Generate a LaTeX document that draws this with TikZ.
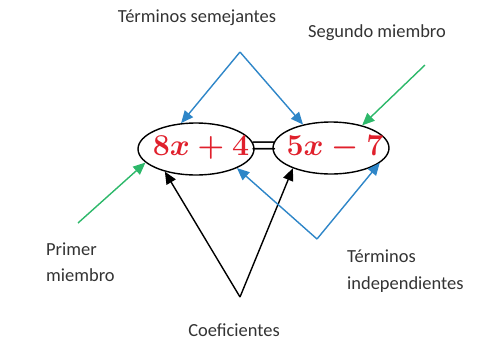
\documentclass[tikz,border=0pt]{standalone}
\usepackage{fontspec}
\setmainfont{Carlito}
\usepackage{amsmath}
\usepackage{tikz}
\usetikzlibrary{arrows.meta,positioning,shapes.geometric}
\usepackage{xcolor}
\definecolor{eqred}{HTML}{E0202C}
\definecolor{eqblue}{HTML}{2E86C8}
\definecolor{eqgreen}{HTML}{2DB86A}

\begin{document}
\begin{tikzpicture}[
  x=0.02cm, y=-0.02cm,
  member/.style={
    ellipse, draw=black, thick, minimum width=2.32cm, minimum height=1.04cm,
    inner sep=0pt
  },
  label/.style={font=\fontsize{10.5}{15}\selectfont, text=black!80, align=left},
  term/.style={font=\fontsize{18}{20}\selectfont\boldmath, text=eqred, inner sep=0pt},
  arr/.style={-{Triangle[length=7pt,width=6pt]}, thick},
]
  \useasboundingbox (0,0) rectangle (491,363);

  % Equation
  \node[member] (left) at (196,149) {};
  \node[member] (right) at (331,148) {};
  \node[term] (lhs) at (201,148) {$8x+4$};
  \node[term, text=black] (eq) at (264,148) {$=$};
  \node[term] (rhs) at (335,148) {$5x-7$};

  % Labels
  \node[label] (similar) at (197,18) {Términos semejantes};
  \node[label] (second) at (377,33) {Segundo miembro};
  \node[label, anchor=west] (first) at (40,262) {Primer\\miembro};
  \node[label, anchor=west] (indep) at (341,271) {Términos\\independientes};
  \node[label] (coef) at (234,330) {Coeficientes};

  % Connector points
  \coordinate (top) at (240,52);
  \coordinate (bottom) at (240,297);
  \coordinate (dip) at (317,239);
  \coordinate (secondstart) at (425,65);
  \coordinate (firststart) at (78,223);

  % Arrows
  \draw[arr, eqblue] (top) -- (left.120);
  \draw[arr, eqblue] (top) -- (right.140);
  \draw[arr, eqgreen] (secondstart) -- (right.36);
  \draw[arr, eqgreen] (firststart) -- (left.195);
  \draw[arr] (bottom) -- (left.216);
  \draw[arr] (bottom) -- (right.208);
  \draw[arr, eqblue] (dip) -- (left.335);
  \draw[arr, eqblue] (dip) -- (right.343);
\end{tikzpicture}
\end{document}
